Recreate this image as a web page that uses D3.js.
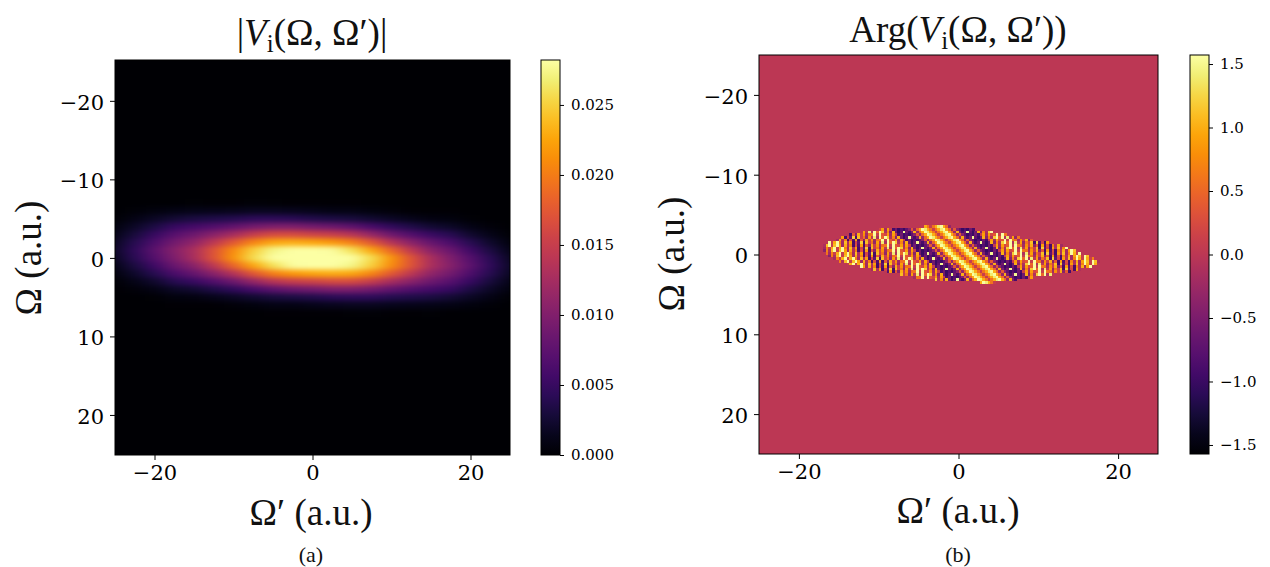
<!DOCTYPE html>
<html>
<head>
<meta charset="utf-8">
<script src="https://cdn.jsdelivr.net/npm/d3@7"></script>
<style>
body { margin: 0; background: #fff; }
svg { display: block; }
.tick text { font-family: "DejaVu Serif"; fill: #000; }
.cm { font-family: "Liberation Serif"; fill: #111; }
</style>
</head>
<body>
<script>
// panel (a): |V|, in units of 0.001, one list per ampColsX, top to bottom along ampRowsY
var ampColsX = [-25,-22.5,-20,-17.5,-15,-12.5,-10,-7.5,-5,-2.5,0,2.5,5,7.5,10,12.5,15,17.5,20,22.5,25]
var ampRowsY = [-7,-6,-5,-4,-3,-2,-1,0,1,2,3,4,5,6,7]
var ampValues = [
	[0,0,.3,.7,1.2,1.7,2,1.7,1.2,.7,.3,.1,0,0,0],
	[0,.4,1,1.9,2.9,3.9,4.5,4.1,3.1,2.1,1.2,.5,.1,0,0],
	[0,.7,1.8,3.3,4.9,6.4,7.4,6.9,5.5,3.9,2.3,1.1,.3,.1,0],
	[.1,1,2.6,4.9,7.1,9,10.3,9.8,8.3,6.2,3.9,1.9,.7,.2,0],
	[.3,1.2,3.1,5.8,8.5,11,13,12.8,10.5,8,5,2.5,.8,.2,0],
	[.2,1.3,3.5,6.7,10.5,14.2,17,17,14.2,10.5,6.7,3.5,1.3,.2,0],
	[.2,1.4,3.8,7.8,12.5,17.5,21,21.5,18.5,13.5,8.5,4.5,1.8,.5,.1],
	[.4,1.6,4.3,9,14.8,20.5,25,25.7,22.5,17.2,11.3,6,2.4,.7,.1],
	[.3,1.6,4.4,9.8,16.3,22.6,27.4,28.8,26,20.2,13.7,7.4,2.9,1,.2],
	[.2,1.5,4.1,9.7,16.2,23,29,31,28,21.8,14.9,8.4,3.3,1.1,.2],
	[.2,1.3,3.6,9,15.5,22.5,28.5,31,28.5,22.5,15.5,9,3.6,1.3,.2],
	[.2,1.1,3.3,8.4,14.9,21.8,28,31,29,23,16.2,9.7,4.1,1.5,.2],
	[.2,1,2.9,7.4,13.7,20.2,26,28.8,27.4,22.6,16.3,9.8,4.4,1.6,.3],
	[.1,.7,2.4,6,11.3,17.2,22.5,25.7,25,20.5,14.8,9,4.3,1.6,.4],
	[.1,.5,1.8,4.5,8.5,13.5,18.5,21.5,21,17.5,12.5,7.8,3.8,1.4,.2],
	[0,.2,1.3,3.5,6.7,10.5,14.2,17,17,14.2,10.5,6.7,3.5,1.3,.2],
	[0,.2,.8,2.5,5,8,10.5,12.8,13,11,8.5,5.8,3.1,1.2,.3],
	[0,.2,.7,1.9,3.9,6.2,8.3,9.8,10.3,9,7.1,4.9,2.6,1,.1],
	[0,.1,.3,1.1,2.3,3.9,5.5,6.9,7.4,6.4,4.9,3.3,1.8,.7,0],
	[0,0,.1,.5,1.2,2.1,3.1,4.1,4.5,3.9,2.9,1.9,1,.4,0],
	[0,0,0,.1,.3,.7,1.2,1.7,2,1.7,1.2,.7,.3,0,0]
]

// panel (b): where the speckled region starts and ends on each row
var argRowsY = [-3.5,-3.17,-2.83,-2.5,-2.17,-1.83,-1.5,-1.17,-0.83,-0.5,-0.17,0.17,0.5,0.83,1.17,1.5,1.83,2.17,2.5,2.83,3.17,3.5]
var argLeft = [-4.34,-9.98,-12.07,-13.53,-14.58,-15.41,-16.3,-16.9,-17.08,-17.05,-16.7,-16.3,-15.8,-15,-13.95,-12.49,-10.94,-9.15,-7.48,-5.6,-3.09,2.76]
var argRight = [-1.42,1.5,4,5.68,7.35,9.02,11.11,12.57,13.41,14.25,15.08,16,16.6,17.17,17.1,16.2,15,13.6,11.74,9.02,6.93,4.42]
// phase read across the diagonal stripes, going out from the central stripe, for even and odd rows
var phaseEven = [.1,.6,1,1.4,1.55,1,.5,-.3,1,-.5,-.9,-.6,1.5,-.7,-1,-.6,1,-.4,.7,-.1,1.2,1.55,.5,1.55,-.1,1.4,0,.9,-.3,.6,.1,1.1,-.9,1.2,-.7,.2,-.9,.9,-.1,1.1,-.2,.7,1.55,1,.1,1.55,1,.1,.7,-.2,.6,-1.3,1.5,-1.1,1.5,-1.3]
var phaseOdd = [.1,.6,1,1.4,1.55,1,.5,-.3,.4,-.4,-.7,-1,-.8,-1,-.6,-.9,.1,.9,-.2,.9,.2,.4,1.55,.1,1.55,.6,.6,-.2,.8,.1,1,-.4,.4,-.9,.9,-.8,.3,-.9,.7,-.1,1,-.2,.9,1.55,1.1,.1,1.55,1.1,-.1,.7,-.4,-1.2,1.4,-1.4,1.4,-1.2]
var stripeSlope = 1.13
var stripeCentre = 0.25
var cellStep = 1/3

var xTicks = [-20,0,20]
var yTicks = [-20,-10,0,10,20]
var ampBarTicks = [0,.005,.01,.015,.02,.025]
var argBarTicks = [-1.5,-1,-.5,0,.5,1,1.5]

var svg = d3.select('body').append('svg').attr('width',1270).attr('height',567)
var defs = svg.append('defs')
defs.append('filter').attr('id','smooth')
	.attr('filterUnits','userSpaceOnUse').attr('x',0).attr('y',0).attr('width',1270).attr('height',567)
	.attr('color-interpolation-filters','sRGB')
	.append('feGaussianBlur').attr('stdDeviation','8 2.4')

function axes(g, x, y) {
	g.append('g').attr('transform','translate(0,'+y.range()[0]+')')
		.call(d3.axisBottom(x).tickValues(xTicks).tickSize(5).tickPadding(5))
		.call(s => s.selectAll('text').style('font-size','21px'))
		.call(s => s.select('.domain').remove())
	g.append('g').attr('transform','translate('+x.range()[0]+',0)')
		.call(d3.axisLeft(y).tickValues(yTicks).tickSize(5).tickPadding(6))
		.call(s => s.selectAll('text').style('font-size','21px').attr('dy','.4em'))
		.call(s => s.select('.domain').remove())
	g.append('rect').attr('x',x.range()[0]).attr('y',y.range()[1])
		.attr('width',x.range()[1]-x.range()[0]).attr('height',y.range()[0]-y.range()[1])
		.attr('fill','none').attr('stroke','#000').attr('stroke-width',1)
}

function colorbar(id, x0, x1, scale, ticks, fmt) {
	var grad = defs.append('linearGradient').attr('id',id).attr('x1',0).attr('x2',0).attr('y1',1).attr('y2',0)
	d3.range(0,1.01,.05).forEach(t => {
		grad.append('stop').attr('offset',t)
			.attr('stop-color',d3.interpolateInferno(t))
	})
	svg.append('rect').attr('x',x0).attr('y',scale.range()[1]).attr('width',x1-x0)
		.attr('height',scale.range()[0]-scale.range()[1])
		.attr('fill','url(#'+id+')').attr('stroke','#000').attr('stroke-width',1)
	svg.append('g').attr('transform','translate('+x1+',0)')
		.call(d3.axisRight(scale).tickValues(ticks).tickSize(4).tickPadding(7).tickFormat(d3.format(fmt)))
		.call(s => s.selectAll('text').style('font-size','15px'))
		.call(s => s.select('.domain').remove())
}

function title(parts, cx, baseline) {
	var t = svg.append('text').attr('class','cm').attr('x',cx).attr('y',baseline)
		.attr('text-anchor','middle').style('font-size','37px')
	parts.forEach(p => {
		var s = t.append('tspan').text(p.t)
		if (p.i) s.style('font-style','italic')
		if (p.sub) s.style('font-size','25px').attr('dy',7)
		if (p.after) s.attr('dy',-7)
	})
}

function axisLabels(cx, xBase, yX, yCy, capBase, cap) {
	svg.append('text').attr('class','cm').attr('x',cx).attr('y',xBase)
		.attr('text-anchor','middle').style('font-size','37px').text('Ω′ (a.u.)')
	svg.append('text').attr('class','cm')
		.attr('transform','translate('+yX+','+yCy+') rotate(-90)')
		.attr('text-anchor','middle').style('font-size','37px').text('Ω (a.u.)')
	svg.append('text').attr('class','cm').attr('x',cx).attr('y',capBase)
		.attr('text-anchor','middle').style('font-size','22px').text(cap)
}

// panel (a)
var xA = d3.scaleLinear().domain([-25,25]).range([115,510])
var yA = d3.scaleLinear().domain([25.1,-25.2]).range([455,60])
var barA = d3.scaleLinear().domain([0,.02821]).range([455,60])
var colorA = d3.scaleSequential(d3.interpolateInferno).domain([0,28.21]).clamp(true)

defs.append('clipPath').attr('id','clipA').append('rect')
	.attr('x',115).attr('y',60).attr('width',395).attr('height',395)
var heat = svg.append('g').attr('clip-path','url(#clipA)').append('g').attr('filter','url(#smooth)')
heat.append('rect').attr('x',xA(-30)).attr('y',yA(-30)).attr('width',xA(30)-xA(-30)).attr('height',yA(30)-yA(-30)).attr('fill','#000004')
ampColsX.forEach((cx, c) => {
	heat.selectAll('rect.c'+c).data(ampValues[c]).enter().append('rect').attr('class','c'+c)
		.attr('x',xA(cx-1.25))
		.attr('y',(d,i) => yA(ampRowsY[i]-.5))
		.attr('width',xA(1.3)-xA(-1.3))
		.attr('height',yA(.55)-yA(-.55))
		.attr('fill',d => colorA(d))
})
axes(svg.append('g'), xA, yA)
colorbar('gradA',541,560,barA,ampBarTicks,'.3f')
title([{t:'|'},{t:'V',i:1},{t:'i',sub:1},{t:'(Ω, Ω′)|',after:1}],312,45)
axisLabels(311,525,41,258,562,'(a)')

// panel (b)
var xB = d3.scaleLinear().domain([-25,25]).range([759,1158])
var yB = d3.scaleLinear().domain([25,-25]).range([454,55])
var barB = d3.scaleLinear().domain([-1.571,1.571]).range([454,55])
var colorB = d3.scaleSequential(d3.interpolateInferno).domain([-1.571,1.571])

svg.append('rect').attr('x',xB(-25)).attr('y',yB(-25)).attr('width',xB(25)-xB(-25)).attr('height',yB(25)-yB(-25))
	.attr('fill',colorB(0))
var speck = svg.append('g').attr('shape-rendering','crispEdges')
argRowsY.forEach((ry, r) => {
	// snap each row to the same cell grid so the rows line up
	var first = Math.round(argLeft[r]/cellStep)
	var last = Math.round(argRight[r]/cellStep)
	var phase = r%2 ? phaseOdd : phaseEven
	var cells = d3.range(first,last+1).map(i => {
		var cx = i*cellStep
		var k = Math.min(phase.length-1, Math.round(Math.abs(cx-stripeCentre-stripeSlope*ry)/cellStep))
		return {x:cx, v:phase[k]}
	})
	speck.selectAll('rect.r'+r).data(cells).enter().append('rect').attr('class','r'+r)
		.attr('x',d => xB(d.x))
		.attr('y',yB(ry-cellStep/2))
		.attr('width',xB(cellStep)-xB(0)+.3)
		.attr('height',yB(cellStep)-yB(0)+.3)
		.attr('fill',d => colorB(d.v))
})
axes(svg.append('g'), xB, yB)
colorbar('gradB',1190,1209,barB,argBarTicks,'.1f')
title([{t:'Arg('},{t:'V',i:1},{t:'i',sub:1},{t:'(Ω, Ω′))',after:1}],958,42)
axisLabels(958,523,684,254,562,'(b)')
</script>
</body>
</html>
